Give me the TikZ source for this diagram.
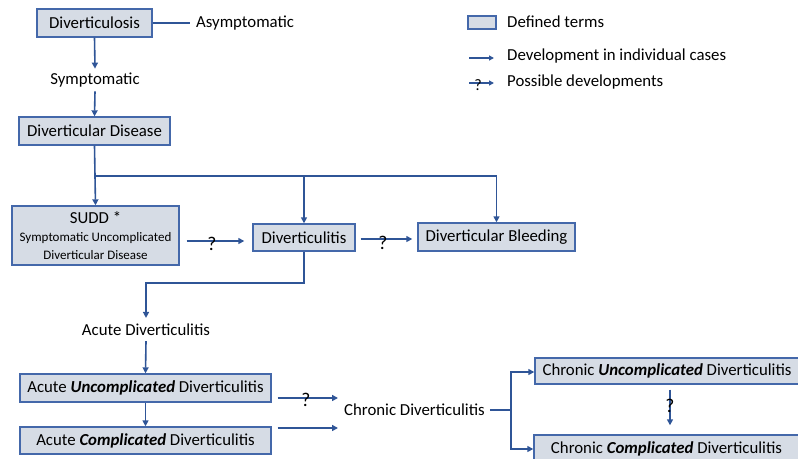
\documentclass[tikz,border=0pt]{standalone}
\usepackage{fontspec}
\setmainfont{Carlito}
\usetikzlibrary{arrows.meta}
\definecolor{lineblue}{RGB}{47,85,151}
\definecolor{boxblue}{RGB}{68,104,170}
\definecolor{boxfill}{RGB}{214,220,229}
\tikzset{
  term/.style={draw=boxblue, line width=1.4pt, fill=boxfill, inner sep=0pt, align=center, font=\fontsize{16.8}{20}\selectfont},
  plain/.style={inner sep=2pt, font=\fontsize{16.8}{20}\selectfont},
  qmark/.style={inner sep=0pt, font=\fontsize{19.5}{22}\selectfont},
  conn/.style={draw=lineblue, line width=1.6pt},
  arr/.style={conn, -{Triangle[length=6pt,width=6pt]}},
  legarr/.style={draw=lineblue, line width=1.4pt, -{Triangle[length=5pt,width=5pt]}}
}
\begin{document}
\begin{tikzpicture}[x=1pt,y=-1pt]
\useasboundingbox (0,0) rectangle (798,458);
% nodes
\node[term, minimum width=115pt, minimum height=28pt] (dlosis) at (94.5,23) {Diverticulosis};
\node[plain, anchor=west] (asym) at (194,23) {Asymptomatic};
\node[plain] (sympt) at (95,80) {Symptomatic};
\node[term, minimum width=151pt, minimum height=28pt] (ddis) at (94.5,131) {Diverticular Disease};
\node[term, minimum width=167pt, minimum height=59pt] (sudd) at (95.5,235.5)
  {SUDD *\\[-2pt]{\fontsize{13}{15}\selectfont Symptomatic Uncomplicated}\\[-2pt]{\fontsize{13}{15}\selectfont Diverticular Disease}};
\node[term, minimum width=102pt, minimum height=27pt] (ditis) at (304,237.5) {Diverticulitis};
\node[term, minimum width=157pt, minimum height=28pt] (bleed) at (496.5,237) {Diverticular Bleeding};
\node[plain] (acute) at (146,330) {Acute Diverticulitis};
\node[term, minimum width=251pt, minimum height=28pt] (aunc) at (145.5,388) {Acute \textbf{\textit{Uncomplicated}} Diverticulitis};
\node[term, minimum width=251pt, minimum height=27pt] (acomp) at (145.5,440.5) {Acute \textbf{\textit{Complicated}} Diverticulitis};
\node[plain, anchor=west] (chron) at (342,410) {Chronic Diverticulitis};
\node[term, minimum width=264pt, minimum height=26pt] (cunc) at (667,371) {Chronic \textbf{\textit{Uncomplicated}} Diverticulitis};
\node[term, minimum width=265pt, minimum height=28pt] (ccomp) at (666.5,449) {Chronic \textbf{\textit{Complicated}} Diverticulitis};
% legend
\node[draw=boxblue, line width=1.4pt, fill=boxfill, minimum width=28pt, minimum height=13pt, inner sep=0pt] (legbox) at (482,22.5) {};
\node[plain, anchor=west] (legt1) at (505,22) {Defined terms};
\coordinate (la1) at (469,58);
\coordinate (la2) at (494,58);
\node[plain, anchor=west] (legt2) at (505,56) {Development in individual cases};
\coordinate (lb1) at (469,83);
\coordinate (lb2) at (494,83);
\node[plain, anchor=west] (legt3) at (505,82) {Possible developments};
\draw[legarr] (la1) -- (la2);
\draw[legarr] (lb1) -- (lb2);
\node[qmark, font=\fontsize{16}{18}\selectfont] (lq) at (478,85) {?};
% coordinates
\coordinate (j) at (95,176);
\coordinate (k) at (304,283);
\coordinate (br) at (511,410);
% connectors
\draw[conn] (dlosis.east) -- ([xshift=-4pt]asym.west);
\draw[arr] (dlosis.south) -- ([yshift=2pt]sympt.north);
\draw[arr] ([yshift=-2pt]sympt.south) -- (ddis.north);
\draw[conn] (ddis.south) -- (j);
\draw[arr] (j) -- (sudd.north);
\draw[arr] (j) -| (ditis.north);
\draw[arr] (j) -| (bleed.north);
\draw[arr] ([xshift=7pt,yshift=-5.5pt]sudd.east) -- ([xshift=-8pt,yshift=-3.5pt]ditis.west);
\node[qmark] (q1) at (212,244) {?};
\draw[arr] ([xshift=5pt,yshift=-1.5pt]ditis.east) -- ([xshift=-5pt,yshift=-2pt]bleed.west);
\node[qmark] (q2) at (383,243) {?};
\draw[arr] (ditis.south) -- (k) -| ([yshift=4pt]acute.north);
\draw[arr] ([yshift=-3pt]acute.south) -- (aunc.north);
\draw[arr] (aunc.south) -- (acomp.north);
\draw[arr] ([xshift=6pt,yshift=-10pt]aunc.east) -- ([xshift=-4pt,yshift=12pt]chron.west);
\node[qmark] (q3) at (306,400) {?};
\draw[arr] ([xshift=6pt,yshift=12.5pt]acomp.east) -- ([xshift=-4pt,yshift=-18pt]chron.west);
\draw[conn] ([xshift=3pt]chron.east) -- (br);
\draw[arr] (br) |- ([yshift=-1pt]cunc.west);
\draw[arr] (br) |- (ccomp.west);
\draw[arr] ([xshift=3pt,yshift=-5pt]cunc.south) -- ([xshift=3.5pt,yshift=9pt]ccomp.north);
\node[qmark] (q4) at (670,406) {?};
\end{tikzpicture}
\end{document}
